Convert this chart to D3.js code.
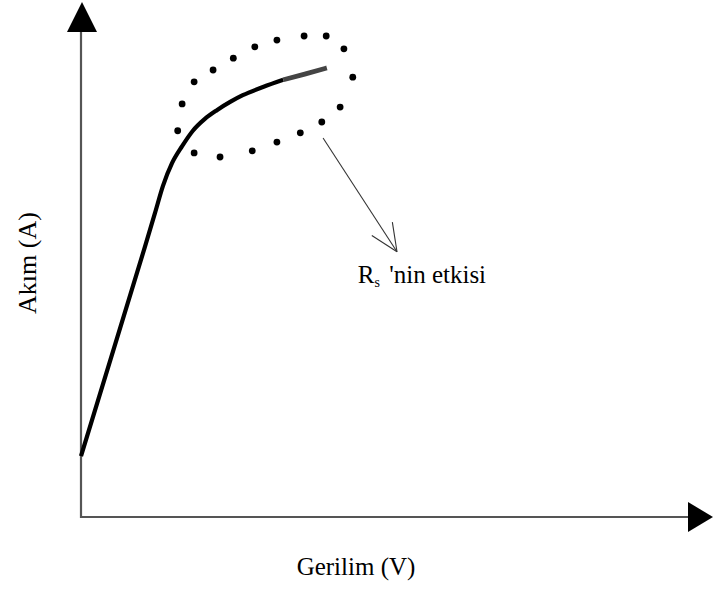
<!DOCTYPE html>
<html>
<head>
<meta charset="utf-8">
<script src="https://cdn.jsdelivr.net/npm/d3@7"></script>
<style>
  html, body { margin: 0; padding: 0; background: #fff; }
  svg { display: block; }
</style>
</head>
<body>
<svg id="chart" width="715" height="589"></svg>
<script>
// I–V curve of a solar cell, showing the effect of series resistance Rs near the knee
const curveX = [0, 10.1, 11.7, 12.97, 14.4, 16.0, 17.7, 19.6, 21.5, 23.6, 25.6, 28.8, 32.0];
const curveY = [11.8, 52.4, 59.0, 64.3, 68.7, 72.0, 75.0, 77.3, 79.0, 80.6, 81.9, 83.5, 84.9];

// tail of the curve, drawn in grey
const tailX = [32.0, 35.4, 38.9];
const tailY = [84.9, 86.0, 87.2];

// dotted ellipse round the region influenced by Rs
const ringX = [16.0, 15.3, 17.9, 22.0, 27.1, 31.0, 34.7, 38.1, 41.0, 43.0, 41.6, 38.8, 35.3, 31.0, 27.5, 24.1, 20.9, 17.9];
const ringY = [80.2, 75.0, 70.7, 69.9, 71.1, 72.8, 74.6, 76.7, 79.6, 85.4, 90.9, 93.4, 93.4, 92.6, 91.3, 89.1, 86.8, 84.5];

// annotation arrow and its label
const noteFrom = [38.3, 73.6];
const noteTo = [50.0, 51.5];
const noteText = [43.8, 45.4];

const xLabel = "Gerilim (V)";
const yLabel = "Akım (A)";

const serif = "'Liberation Serif', 'Times New Roman', serif";

const svg = d3.select("#chart");

const x = d3.scaleLinear().domain([0, 100]).range([81, 713]);
const y = d3.scaleLinear().domain([0, 100]).range([517, 2]);

const axisColor = "#555";

// axes with solid arrowheads
const x0 = x(0), y0 = y(0), xMax = x(100), yMax = y(100);
svg.append("line")
  .attr("x1", x0).attr("y1", y0).attr("x2", xMax - 24).attr("y2", y0)
  .attr("stroke", axisColor).attr("stroke-width", 2.2);
svg.append("line")
  .attr("x1", x0).attr("y1", y0 + 1).attr("x2", x0).attr("y2", yMax + 29)
  .attr("stroke", axisColor).attr("stroke-width", 2.2);
svg.append("path")
  .attr("d", `M${xMax},${y0} L${xMax - 25},${y0 - 15} L${xMax - 25},${y0 + 15} Z`)
  .attr("fill", "#000");
svg.append("path")
  .attr("d", `M${x0 + 1},${yMax} L${x0 - 14},${yMax + 30} L${x0 + 16},${yMax + 30} Z`)
  .attr("fill", "#000");

const line = d3.line()
  .x(d => x(d[0]))
  .y(d => y(d[1]))
  .curve(d3.curveMonotoneX);

svg.append("path")
  .datum(d3.zip(curveX, curveY))
  .attr("d", line)
  .attr("fill", "none")
  .attr("stroke", "#000")
  .attr("stroke-width", 4.2);

svg.append("path")
  .datum(d3.zip(tailX, tailY))
  .attr("d", line)
  .attr("fill", "none")
  .attr("stroke", "#444")
  .attr("stroke-width", 4.8);

svg.selectAll("circle.ring")
  .data(d3.zip(ringX, ringY))
  .join("circle")
  .attr("class", "ring")
  .attr("cx", d => x(d[0]))
  .attr("cy", d => y(d[1]))
  .attr("r", 3.4)
  .attr("fill", "#000");

// thin arrow with an open head
const ax1 = x(noteFrom[0]), ay1 = y(noteFrom[1]);
const ax2 = x(noteTo[0]), ay2 = y(noteTo[1]);
const ang = Math.atan2(ay2 - ay1, ax2 - ax1);
const headLen = 30, headSpread = 0.42;
const arrow = svg.append("g").attr("stroke", "#333").attr("stroke-width", 1.1).attr("fill", "none");
arrow.append("line").attr("x1", ax1).attr("y1", ay1).attr("x2", ax2).attr("y2", ay2);
[-headSpread, headSpread].forEach(s => {
  arrow.append("line")
    .attr("x1", ax2).attr("y1", ay2)
    .attr("x2", ax2 - headLen * Math.cos(ang + s))
    .attr("y2", ay2 - headLen * Math.sin(ang + s));
});

const note = svg.append("text")
  .attr("x", x(noteText[0]))
  .attr("y", y(noteText[1]))
  .style("font-family", serif)
  .attr("font-size", 25)
  .attr("fill", "#000");
note.append("tspan").text("R");
note.append("tspan").attr("font-size", 14).attr("dy", 4).text("s");
note.append("tspan").attr("dy", -4).attr("dx", 3).text(" 'nin etkisi");

svg.append("text")
  .attr("x", 356)
  .attr("y", 575)
  .attr("text-anchor", "middle")
  .style("font-family", serif)
  .attr("font-size", 25)
  .attr("fill", "#000")
  .text(xLabel);

svg.append("text")
  .attr("transform", "translate(36,263) rotate(-90)")
  .attr("text-anchor", "middle")
  .style("font-family", serif)
  .attr("font-size", 26)
  .attr("fill", "#000")
  .text(yLabel);
</script>
</body>
</html>
